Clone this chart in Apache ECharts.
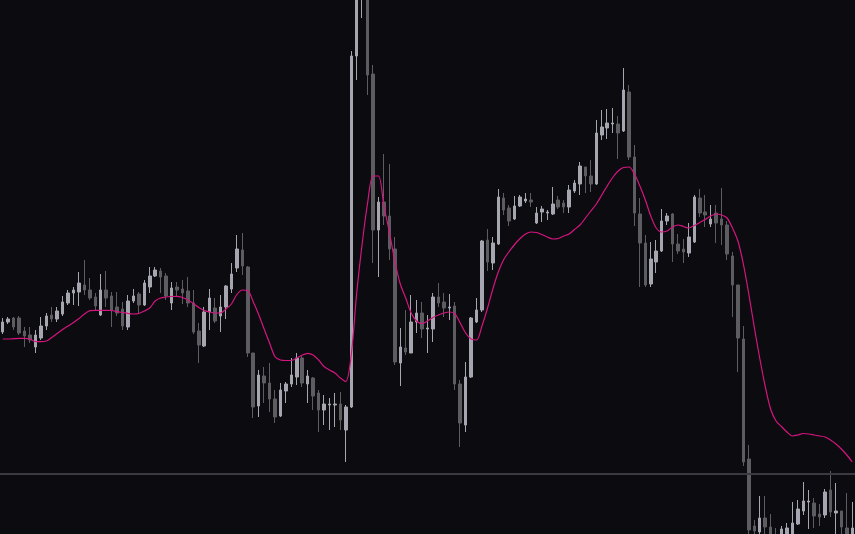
<!DOCTYPE html>
<html>
<head>
<meta charset="utf-8">
<script src="https://cdn.jsdelivr.net/npm/echarts@6/dist/echarts.min.js"></script>
<style>
html,body{margin:0;padding:0;background:#0b0b10;}
#chart{width:855px;height:534px;}
</style>
</head>
<body>
<div id="chart"></div>
<script>
const open = [
202,212,216,216,203,199,187,196,208,219,
215,220,231,241,242,249,244,237,219,244,
238,227,225,207,233,240,229,247,258,263,
258,231,247,245,243,231,203,188,222,226,
218,227,245,266,284,267,181,128,158,151,
135,118,143,150,157,176,150,156,141,124,
129,129,130,104,127,478,564,579,460,304,
332,318,285,171,186,181,212,221,205,205,
237,232,226,228,150,109,157,212,224,294,
271,290,336,326,315,328,333,334,311,322,
321,320,334,331,327,343,350,367,358,350,
399,406,410,410,403,442,377,320,291,250,
272,283,313,320,290,285,281,292,336,322,
310,321,315,309,278,249,195,75,8,2,
16,7,-4,-6,-6,-6,10,23,32,31,
20,19,44,21,23,6,-6];
const close = [
212,215,207,201,198,194,199,208,218,215,
223,232,241,244,251,244,236,228,244,236,
224,221,208,233,238,229,251,258,264,257,
238,246,244,241,231,202,189,222,236,213,
227,248,260,285,268,181,127,159,151,135,
117,144,150,159,176,151,158,138,124,130,
130,130,114,127,478,559,594,459,304,332,
318,285,172,187,182,212,221,205,206,237,
231,226,227,150,111,157,216,224,293,272,
291,337,324,313,328,337,335,332,321,325,
322,330,327,327,344,351,368,358,350,401,
407,411,411,401,444,377,321,291,249,275,
283,313,318,290,283,282,297,337,321,319,
315,311,309,280,249,196,72,4,3,16,
7,-6,-11,5,6,11,25,33,33,18,
17,42,22,23,7,-6,6];
const low = [
200,210,204,199,187,191,181,194,204,212,
212,218,229,229,228,239,234,224,218,227,
207,218,204,204,231,221,228,241,257,241,
234,224,238,230,227,200,171,187,204,211,
202,215,241,262,259,177,116,117,131,122,
111,117,131,147,149,147,131,124,102,109,
104,107,104,72,126,454,516,439,271,257,
309,274,169,148,179,181,201,196,181,192,
227,217,214,144,87,102,156,211,222,263,
264,289,319,308,314,327,331,327,310,312,
314,319,325,321,321,341,339,341,342,349,
394,395,401,375,402,374,308,247,247,247,
261,282,309,272,280,271,277,291,317,307,
307,291,289,274,217,162,68,-11,-6,-6,
-6,-11,-16,-11,-11,-11,9,19,5,6,
8,16,17,-6,-6,-11,-11];
const high = [
216,217,217,218,207,207,204,217,221,227,
227,238,244,247,262,274,256,241,260,263,
242,242,232,239,245,242,254,267,267,266,
261,252,252,254,257,244,211,227,245,236,
239,249,271,299,301,268,181,164,167,171,
144,151,152,176,181,179,164,157,144,139,
136,141,142,129,483,574,604,589,469,337,
380,370,297,206,224,239,234,232,219,241,
251,241,240,232,154,172,217,236,294,305,
297,345,341,329,338,339,341,341,327,328,
324,347,338,334,349,354,372,367,374,414,
424,425,426,418,466,449,389,336,299,292,
294,325,321,321,300,295,311,339,345,339,
329,329,346,313,282,249,208,89,14,38,
38,20,6,8,11,32,34,52,44,36,
30,45,63,51,23,41,32];
const ma = [
195,195,195.3,195.7,195.7,195,192.5,192.3,193,196.5,
200.5,204.5,208,211.5,215.5,220,223.3,223.7,223.7,223.7,
223.5,222.3,221.5,220.7,220,220.5,223,226,233,236,
237,237.5,237.7,236.5,234,230.5,226.5,223.5,222,221,
221,225,230,239.5,244,243.5,232.3,219.5,205,191,
177.3,174,173.5,173.5,176,179,180.7,179,174,167.5,
164,161,156,152.5,179,241,290,331,358,358,
328,302,273,250,236,221,213,210.5,213,216.5,
219,221,222,220.5,211,201,195,194,208,225.5,
245,262,274.5,282.5,289.5,295.5,300,302,301.5,299.5,
297,295,295.5,298,300,304.5,309,316,323,330,
339,348,356.5,363,366.5,367,360,348,334,318,
306,302,303,307,309,307.5,306,308.5,311.5,314.5,
318,320,319,316,306,293,270,240,207,176,
148,125,113,107.5,102,98,99,100.5,100,99,
98,97,94,90,85,79,72];
const levelLine = 60;
const categories = open.map((_, i) => 'Bar ' + (i + 1));

const candles = open.map((o, i) => [o, close[i], low[i], high[i]]);

const chart = echarts.init(document.getElementById('chart'));
chart.setOption({
  backgroundColor: '#0b0b10',
  animation: false,
  grid: {left: 0, right: 0, top: 0, bottom: 0},
  xAxis: {type: 'category', data: categories, show: false, boundaryGap: true},
  yAxis: {type: 'value', min: 0, max: 534, show: false, splitLine: {show: false}},
  series: [
    {
      type: 'candlestick',
      data: candles,
      clip: true,
      barWidth: 3,
      itemStyle: {
        color: '#a6a6b0', color0: '#5c5c61',
        borderColor: '#a6a6b0', borderColor0: '#5c5c61',
        borderWidth: 1
      },
      markLine: {
        silent: true,
        symbol: 'none',
        label: {show: false},
        lineStyle: {color: '#3a3944', width: 2, type: 'solid'},
        data: [{yAxis: levelLine}]
      }
    },
    {
      type: 'line',
      data: ma,
      showSymbol: false,
      smooth: 0.3,
      lineStyle: {color: '#d6157f', width: 1.2}
    }
  ]
});
</script>
</body>
</html>
